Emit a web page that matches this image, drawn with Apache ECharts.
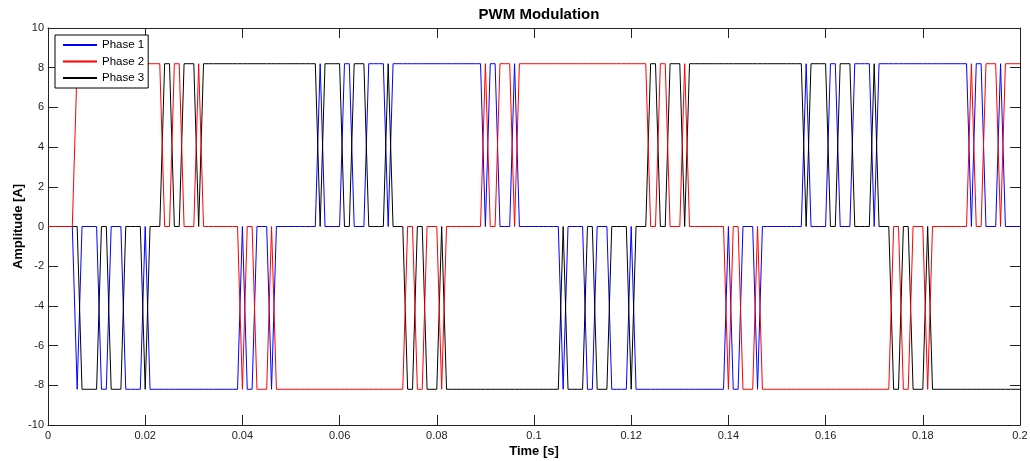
<!DOCTYPE html>
<html>
<head>
<meta charset="utf-8">
<script src="https://cdn.jsdelivr.net/npm/echarts@6/dist/echarts.min.js"></script>
<style>
html,body{margin:0;padding:0;background:#fff;overflow:hidden;}
#chart{width:1030px;height:461px;}
</style>
</head>
<body>
<div id="chart"></div>
<script>
// Sampling step of the simulated signals (s)
const sampleStep = 0.001;

const seriesNames = ['Phase 1', 'Phase 2', 'Phase 3'];

// Phase 1 (blue), one value per sample, t = 0 ... 0.2 s
const phase1 = [
  0,0,0,0,0,0,-8.2,0,0,0,
  0,-8.2,-8.2,0,0,0,-8.2,-8.2,-8.2,-8.2,
  0,-8.2,-8.2,-8.2,-8.2,-8.2,-8.2,-8.2,-8.2,-8.2,
  -8.2,-8.2,-8.2,-8.2,-8.2,-8.2,-8.2,-8.2,-8.2,-8.2,
  0,-8.2,-8.2,0,0,0,-8.2,0,0,0,
  0,0,0,0,0,0,8.2,0,0,0,
  0,8.2,8.2,0,0,0,8.2,8.2,8.2,8.2,
  0,8.2,8.2,8.2,8.2,8.2,8.2,8.2,8.2,8.2,
  8.2,8.2,8.2,8.2,8.2,8.2,8.2,8.2,8.2,8.2,
  0,8.2,8.2,0,0,0,8.2,0,0,0,
  0,0,0,0,0,0,-8.2,0,0,0,
  0,-8.2,-8.2,0,0,0,-8.2,-8.2,-8.2,-8.2,
  0,-8.2,-8.2,-8.2,-8.2,-8.2,-8.2,-8.2,-8.2,-8.2,
  -8.2,-8.2,-8.2,-8.2,-8.2,-8.2,-8.2,-8.2,-8.2,-8.2,
  0,-8.2,-8.2,0,0,0,-8.2,0,0,0,
  0,0,0,0,0,0,8.2,0,0,0,
  0,8.2,8.2,0,0,0,8.2,8.2,8.2,8.2,
  0,8.2,8.2,8.2,8.2,8.2,8.2,8.2,8.2,8.2,
  8.2,8.2,8.2,8.2,8.2,8.2,8.2,8.2,8.2,8.2,
  0,8.2,8.2,0,0,0,8.2,0,0,0,
  0
];

// Phase 2 (red)
const phase2 = [
  0,0,0,0,0,0,8.2,8.2,8.2,8.2,
  8.2,8.2,8.2,8.2,8.2,8.2,8.2,8.2,8.2,8.2,
  8.2,8.2,8.2,8.2,0,0,8.2,8.2,0,0,
  0,8.2,0,0,0,0,0,0,0,0,
  -8.2,0,0,-8.2,-8.2,-8.2,0,-8.2,-8.2,-8.2,
  -8.2,-8.2,-8.2,-8.2,-8.2,-8.2,-8.2,-8.2,-8.2,-8.2,
  -8.2,-8.2,-8.2,-8.2,-8.2,-8.2,-8.2,-8.2,-8.2,-8.2,
  -8.2,-8.2,-8.2,-8.2,0,0,-8.2,-8.2,0,0,
  0,-8.2,0,0,0,0,0,0,0,0,
  8.2,0,0,8.2,8.2,8.2,0,8.2,8.2,8.2,
  8.2,8.2,8.2,8.2,8.2,8.2,8.2,8.2,8.2,8.2,
  8.2,8.2,8.2,8.2,8.2,8.2,8.2,8.2,8.2,8.2,
  8.2,8.2,8.2,8.2,0,0,8.2,8.2,0,0,
  0,8.2,0,0,0,0,0,0,0,0,
  -8.2,0,0,-8.2,-8.2,-8.2,0,-8.2,-8.2,-8.2,
  -8.2,-8.2,-8.2,-8.2,-8.2,-8.2,-8.2,-8.2,-8.2,-8.2,
  -8.2,-8.2,-8.2,-8.2,-8.2,-8.2,-8.2,-8.2,-8.2,-8.2,
  -8.2,-8.2,-8.2,-8.2,0,0,-8.2,-8.2,0,0,
  0,-8.2,0,0,0,0,0,0,0,0,
  8.2,0,0,8.2,8.2,8.2,0,8.2,8.2,8.2,
  8.2
];

// Phase 3 (black)
const phase3 = [
  0,0,0,0,0,0,0,-8.2,-8.2,-8.2,
  -8.2,0,0,-8.2,-8.2,-8.2,0,0,0,0,
  -8.2,0,0,0,8.2,8.2,0,0,8.2,8.2,
  8.2,0,8.2,8.2,8.2,8.2,8.2,8.2,8.2,8.2,
  8.2,8.2,8.2,8.2,8.2,8.2,8.2,8.2,8.2,8.2,
  8.2,8.2,8.2,8.2,8.2,8.2,0,8.2,8.2,8.2,
  8.2,0,0,8.2,8.2,8.2,0,0,0,0,
  8.2,0,0,0,-8.2,-8.2,0,0,-8.2,-8.2,
  -8.2,0,-8.2,-8.2,-8.2,-8.2,-8.2,-8.2,-8.2,-8.2,
  -8.2,-8.2,-8.2,-8.2,-8.2,-8.2,-8.2,-8.2,-8.2,-8.2,
  -8.2,-8.2,-8.2,-8.2,-8.2,-8.2,0,-8.2,-8.2,-8.2,
  -8.2,0,0,-8.2,-8.2,-8.2,0,0,0,0,
  -8.2,0,0,0,8.2,8.2,0,0,8.2,8.2,
  8.2,0,8.2,8.2,8.2,8.2,8.2,8.2,8.2,8.2,
  8.2,8.2,8.2,8.2,8.2,8.2,8.2,8.2,8.2,8.2,
  8.2,8.2,8.2,8.2,8.2,8.2,0,8.2,8.2,8.2,
  8.2,0,0,8.2,8.2,8.2,0,0,0,0,
  8.2,0,0,0,-8.2,-8.2,0,0,-8.2,-8.2,
  -8.2,0,-8.2,-8.2,-8.2,-8.2,-8.2,-8.2,-8.2,-8.2,
  -8.2,-8.2,-8.2,-8.2,-8.2,-8.2,-8.2,-8.2,-8.2,-8.2,
  -8.2
];

const xMin = 0, xMax = 0.2, xStep = 0.02;
const yMin = -10, yMax = 10, yStep = 2;

const FONT = "'Liberation Sans', Arial, Helvetica, sans-serif";
const colors = { 'Phase 1': '#0000ff', 'Phase 2': '#ff0000', 'Phase 3': '#000000' };

function toPairs(values) {
  return values.map((v, i) => [+(i * sampleStep).toFixed(4), v]);
}

function lineSeries(name, values) {
  return {
    name: name,
    type: 'line',
    data: toPairs(values),
    showSymbol: false,
    symbol: 'none',
    lineStyle: { color: colors[name], width: 1 },
    itemStyle: { color: colors[name] },
    emphasis: { disabled: true },
    animation: false
  };
}

const axisLineStyle = { color: '#222', width: 1 };
const tickStyle = { show: true, inside: true, length: 10, lineStyle: { color: '#222', width: 1 } };

const chart = echarts.init(document.getElementById('chart'), null, { renderer: 'canvas' });
chart.setOption({
  animation: false,
  backgroundColor: '#ffffff',
  title: {
    text: 'PWM Modulation',
    left: 534,
    textAlign: 'center',
    top: 2,
    textStyle: { fontFamily: FONT, fontSize: 15, fontWeight: 'bold', color: '#000' }
  },
  legend: {
    data: seriesNames,
    orient: 'vertical',
    left: 55,
    top: 35,
    padding: [4, 4, 4, 7],
    itemWidth: 34,
    itemHeight: 14,
    itemGap: 4.5,
    backgroundColor: '#ffffff',
    borderColor: '#000',
    borderWidth: 1,
    borderRadius: 0,
    itemStyle: { opacity: 0 },
    textStyle: { fontFamily: FONT, fontSize: 11.5, color: '#000' },
    selectedMode: false
  },
  grid: { left: 48, right: 10, top: 28, bottom: 36, containLabel: false, outerBoundsMode: 'none' },
  xAxis: [
    {
      type: 'value', min: xMin, max: xMax, interval: xStep, position: 'bottom',
      name: 'Time [s]', nameLocation: 'middle', nameGap: 20, nameMoveOverlap: false,
      nameTextStyle: { fontFamily: FONT, fontSize: 13, fontWeight: 'bold', color: '#000' },
      axisLine: { show: true, onZero: false, lineStyle: axisLineStyle },
      axisTick: tickStyle,
      axisLabel: { fontFamily: FONT, fontSize: 11, color: '#222', margin: 5,
        formatter: v => String(+v.toFixed(2)) },
      splitLine: { show: false }
    },
    {
      type: 'value', min: xMin, max: xMax, interval: xStep, position: 'top',
      axisLine: { show: true, onZero: false, lineStyle: axisLineStyle },
      axisTick: tickStyle,
      axisLabel: { show: false },
      splitLine: { show: false }
    }
  ],
  yAxis: [
    {
      type: 'value', min: yMin, max: yMax, interval: yStep, position: 'left',
      name: 'Amplitude [A]', nameLocation: 'middle', nameGap: 23, nameRotate: 90, nameMoveOverlap: false,
      nameTextStyle: { fontFamily: FONT, fontSize: 13, fontWeight: 'bold', color: '#000' },
      axisLine: { show: true, onZero: false, lineStyle: axisLineStyle },
      axisTick: tickStyle,
      axisLabel: { fontFamily: FONT, fontSize: 11, color: '#222', margin: 4 },
      splitLine: { show: false }
    },
    {
      type: 'value', min: yMin, max: yMax, interval: yStep, position: 'right',
      axisLine: { show: true, onZero: false, lineStyle: axisLineStyle },
      axisTick: tickStyle,
      axisLabel: { show: false },
      splitLine: { show: false }
    }
  ],
  series: [
    lineSeries('Phase 1', phase1),
    lineSeries('Phase 3', phase3),
    lineSeries('Phase 2', phase2)
  ]
});
</script>
</body>
</html>
